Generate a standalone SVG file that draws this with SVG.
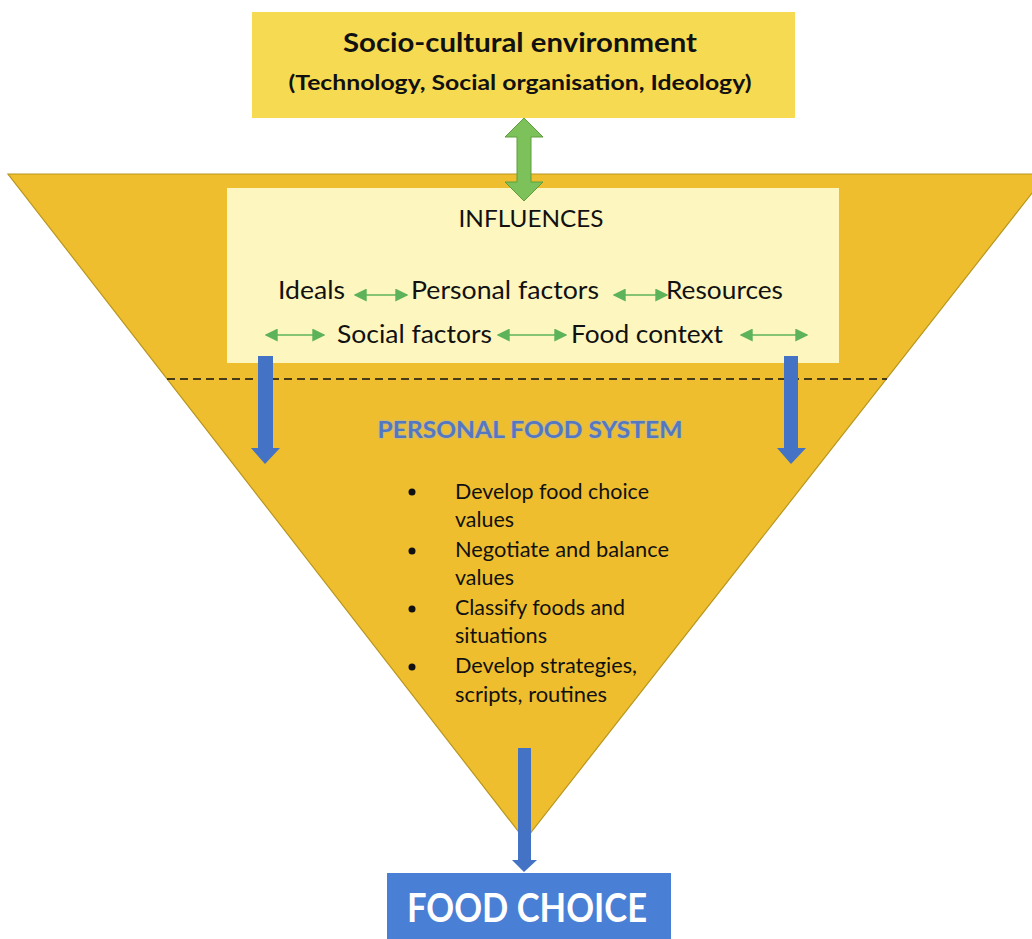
<svg xmlns="http://www.w3.org/2000/svg" width="1032" height="939" viewBox="0 0 1032 939">
  <style>
    .lbl { font-family: Lato, "Open Sans", "Liberation Sans", sans-serif; fill: #111; }
    .head { font-weight: bold; }
    .inf { font-size: 25px; }
    .bul { font-size: 21px; }
    .link { stroke: #5DB35A; stroke-width: 1.6; fill: none; marker-start: url(#gs); marker-end: url(#ge); }
    .flow { fill: #4472C4; }
  </style>
  <defs>
    <marker id="ge" viewBox="0 0 10 10" refX="9" refY="5" markerWidth="13" markerHeight="13" markerUnits="userSpaceOnUse" orient="auto">
      <path d="M0,0 L10,5 L0,10 Z" fill="#5DB35A"/>
    </marker>
    <marker id="gs" viewBox="0 0 10 10" refX="1" refY="5" markerWidth="13" markerHeight="13" markerUnits="userSpaceOnUse" orient="auto">
      <path d="M10,0 L0,5 L10,10 Z" fill="#5DB35A"/>
    </marker>
    <filter id="glow" x="-5%" y="-30%" width="110%" height="160%">
      <feGaussianBlur stdDeviation="1.2"/>
    </filter>
  </defs>

  <rect width="1032" height="939" fill="#ffffff"/>

  <!-- funnel -->
  <g id="funnel">
    <polygon points="8,174 1047,174 525,840" fill="#EEBE2E" stroke="#B8961E" stroke-width="1.2"/>
  </g>

  <!-- socio-cultural environment -->
  <g id="environment">
    <rect x="252" y="12" width="543" height="106" fill="#F6DB52"/>
    <text class="lbl head" x="520" y="52" font-size="26" text-anchor="middle" textLength="354" lengthAdjust="spacingAndGlyphs">Socio-cultural environment</text>
    <text class="lbl head" x="520" y="90" font-size="20.5" text-anchor="middle" textLength="463" lengthAdjust="spacingAndGlyphs">(Technology, Social organisation, Ideology)</text>
  </g>

  <!-- influences -->
  <g id="influences">
    <rect x="227" y="188" width="612" height="175" fill="#FDF6BF"/>
    <text class="lbl" x="531" y="227" font-size="23.5" text-anchor="middle" textLength="145" lengthAdjust="spacingAndGlyphs">INFLUENCES</text>
    <text class="lbl inf" x="278" y="299" textLength="67" lengthAdjust="spacingAndGlyphs">Ideals</text>
    <text class="lbl inf" x="411" y="299" textLength="188" lengthAdjust="spacingAndGlyphs">Personal factors</text>
    <text class="lbl inf" x="666" y="299" textLength="117" lengthAdjust="spacingAndGlyphs">Resources</text>
    <text class="lbl inf" x="337" y="343" textLength="155" lengthAdjust="spacingAndGlyphs">Social factors</text>
    <text class="lbl inf" x="571" y="343" textLength="152" lengthAdjust="spacingAndGlyphs">Food context</text>
  </g>

  <!-- boundary between influences and personal system -->
  <line x1="167" y1="379" x2="887" y2="379" stroke="#111" stroke-width="1.6" stroke-dasharray="8,5"/>

  <!-- personal food system -->
  <g id="personal-food-system">
    <text x="530" y="438" font-family="Lato, 'Open Sans', 'Liberation Sans', sans-serif" font-weight="bold" font-size="23.5" text-anchor="middle" textLength="305" lengthAdjust="spacingAndGlyphs" fill="#9DB3E0" filter="url(#glow)">PERSONAL FOOD SYSTEM</text>
    <text x="530" y="438" font-family="Lato, 'Open Sans', 'Liberation Sans', sans-serif" font-weight="bold" font-size="23.5" text-anchor="middle" textLength="305" lengthAdjust="spacingAndGlyphs" fill="#5577C0">PERSONAL FOOD SYSTEM</text>
    <g fill="#111">
      <circle cx="412" cy="492" r="3.5"/>
      <circle cx="412" cy="551" r="3.5"/>
      <circle cx="412" cy="609" r="3.5"/>
      <circle cx="412" cy="667" r="3.5"/>
    </g>
    <text class="lbl bul" x="455" y="499" textLength="194" lengthAdjust="spacingAndGlyphs">Develop food choice</text>
    <text class="lbl bul" x="455" y="527" textLength="59" lengthAdjust="spacingAndGlyphs">values</text>
    <text class="lbl bul" x="455" y="557" textLength="214" lengthAdjust="spacingAndGlyphs">Negotiate and balance</text>
    <text class="lbl bul" x="455" y="585" textLength="59" lengthAdjust="spacingAndGlyphs">values</text>
    <text class="lbl bul" x="455" y="615" textLength="170" lengthAdjust="spacingAndGlyphs">Classify foods and</text>
    <text class="lbl bul" x="455" y="643" textLength="92" lengthAdjust="spacingAndGlyphs">situations</text>
    <text class="lbl bul" x="455" y="673" textLength="182" lengthAdjust="spacingAndGlyphs">Develop strategies,</text>
    <text class="lbl bul" x="455" y="702" textLength="152" lengthAdjust="spacingAndGlyphs">scripts, routines</text>
  </g>

  <!-- food choice -->
  <g id="food-choice">
    <rect x="387" y="873" width="284" height="70" fill="#4A7FD6"/>
    <text x="527" y="922" font-family="Lato, 'Open Sans', 'Liberation Sans', sans-serif" font-weight="bold" font-size="41" fill="#ffffff" text-anchor="middle" textLength="240" lengthAdjust="spacingAndGlyphs">FOOD CHOICE</text>
  </g>

  <!-- connectors -->
  <g id="connectors">
    <!-- environment <-> influences -->
    <polygon points="524,118 543,137 531,137 531,182 543,182 524,201 505,182 517,182 517,137 505,137" fill="#7DC15A" stroke="#5E9E3D" stroke-width="1"/>
    <!-- links between influence factors -->
    <line class="link" x1="355" y1="295" x2="407" y2="295"/>
    <line class="link" x1="614" y1="295" x2="667" y2="295"/>
    <line class="link" x1="266" y1="335" x2="324" y2="335"/>
    <line class="link" x1="498" y1="335" x2="566" y2="335"/>
    <line class="link" x1="741" y1="335" x2="807" y2="335"/>
    <!-- influences into personal food system -->
    <polygon class="flow" points="258,356 273,356 273,448 280,448 265,464 251,448 258,448"/>
    <polygon class="flow" points="784,356 798,356 798,448 806,448 791,464 777,448 784,448"/>
    <!-- personal food system to food choice -->
    <polygon class="flow" points="518,748 531,748 531,860 537,860 524,872 512,860 518,860"/>
  </g>
</svg>
